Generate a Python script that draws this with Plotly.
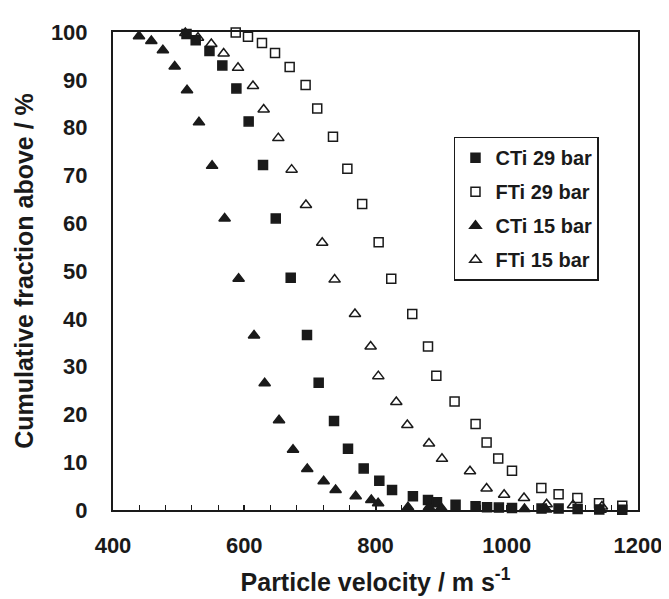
import plotly.graph_objects as go

# ---- data ----
cti29_x = [512, 526, 547, 566.6, 588, 606.7, 628.6, 648, 670.8, 695.6, 713.4, 736.8, 758.1, 782, 805.8,
           825.2, 857, 880, 893.7, 922, 952.5, 970, 988, 1008, 1053, 1079, 1108, 1141, 1176]
cti29_y = [99.6, 98.3, 96.0, 93.0, 88.2, 81.3, 72.2, 61.0, 48.6, 36.6, 26.6, 18.6, 12.8, 8.7, 6.1,
           4.2, 2.9, 2.1, 1.6, 1.1, 0.8, 0.6, 0.5, 0.4, 0.3, 0.3, 0.2, 0.1, 0.05]

fti29_x = [587, 605.7, 627, 646.9, 669.2, 693.5, 711.2, 735.2, 757.1, 779.7, 804.8, 824, 856, 880, 892.7,
           920.5, 952.5, 969.3, 987, 1008, 1052.7, 1079, 1107.6, 1140.6, 1176]
fti29_y = [99.9, 99.0, 97.7, 95.6, 92.7, 88.9, 84.0, 78.1, 71.4, 64.0, 56.0, 48.4, 41.0, 34.2, 28.1,
           22.7, 18.0, 14.1, 10.8, 8.2, 4.6, 3.3, 2.5, 1.4, 0.9]

cti15_x = [439.6, 458.4, 476, 494, 512.8, 531, 551, 570.1, 591.4, 614.9, 631.1, 653, 674.3, 696, 721,
           739.2, 769.8, 793.6, 804, 849.5, 881.5, 900, 1027, 1060, 1143]
cti15_y = [99.1, 98.1, 96.2, 92.8, 87.8, 81.1, 72.0, 61.0, 48.4, 36.5, 26.5, 18.8, 12.6, 8.6, 6.0,
           4.2, 2.9, 2.1, 1.4, 0.6, 0.6, 0.5, 0.2, 0.1, 0.05]

fti15_x = [510.2, 529.5, 549.8, 568.6, 590.5, 613.3, 629.6, 651.9, 672.2, 694, 718.8, 737.7, 768.7, 792.6,
           804.3, 831.7, 848.5, 881.5, 901.3, 944, 969.3, 996, 1026.3, 1060.8, 1101, 1145]
fti15_y = [99.8, 98.8, 97.5, 95.5, 92.5, 88.7, 83.8, 77.8, 71.2, 63.8, 55.9, 48.2, 41.0, 34.2,
           28.0, 22.6, 17.8, 13.9, 10.7, 8.1, 4.5, 3.2, 2.5, 1.2, 1.0, 0.75]

x_ticks = [400, 600, 800, 1000, 1200]
y_ticks = [0, 10, 20, 30, 40, 50, 60, 70, 80, 90, 100]

INK = "#1a1a1a"
FONT = "Liberation Sans"

series = [
    ("CTi 29 bar", cti29_x, cti29_y, "square", 9),
    ("FTi 29 bar", fti29_x, fti29_y, "square-open", 9),
    ("CTi 15 bar", cti15_x, cti15_y, "triangle-up", 10),
    ("FTi 15 bar", fti15_x, fti15_y, "triangle-up-open", 10),
]

fig = go.Figure()
for name, xs, ys, sym, sz in series:
    fig.add_trace(go.Scatter(
        x=xs, y=ys, mode="markers", name=name, legendgroup=name,
        cliponaxis=False,
        marker=dict(symbol=sym, size=sz, color=INK, line=dict(color=INK, width=1.5)),
    ))

fig.update_layout(
    width=669, height=599,
    margin=dict(l=105, r=39, t=14, b=97),
    paper_bgcolor="white", plot_bgcolor="white",
    font=dict(family=FONT, color=INK),
    showlegend=True,
    legend=dict(
        x=0.6495, y=0.781, xanchor="left", yanchor="top",
        bordercolor=INK, borderwidth=1.5, bgcolor="white",
        font=dict(family=FONT, size=20, color=INK, weight="bold"),
        tracegroupgap=5, itemwidth=30,
    ),
    xaxis=dict(
        range=[400, 1200], tickvals=x_ticks, ticks="inside", ticklen=5, tickwidth=1.5, tickcolor=INK,
        minor=dict(dtick=40, tick0=400, ticks="inside", ticklen=5, tickwidth=1.2, tickcolor=INK),
        showgrid=False, zeroline=False,
        showline=True, linecolor=INK, linewidth=2, mirror=True,
        tickfont=dict(family=FONT, size=22, weight="bold", color=INK),
        ticklabelstandoff=15,
        title=dict(text="Particle velocity / m s<sup>-1</sup>", standoff=16,
                   font=dict(family=FONT, size=25, weight="bold", color=INK)),
    ),
    yaxis=dict(
        range=[0, 100], tickvals=y_ticks, ticks="",
        showgrid=False, zeroline=False,
        showline=True, linecolor=INK, linewidth=2, mirror=True,
        tickfont=dict(family=FONT, size=22, weight="bold", color=INK),
        ticklabelstandoff=19,
        title=dict(text="Cumulative fraction above / %", standoff=10,
                   font=dict(family=FONT, size=25, weight="bold", color=INK)),
    ),
)

fig.write_html("out.html")
